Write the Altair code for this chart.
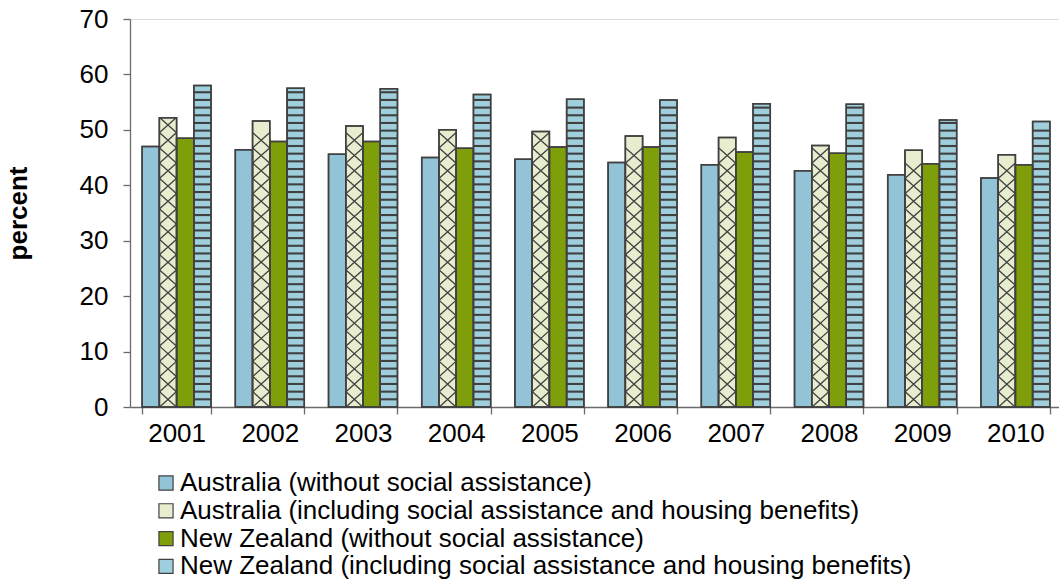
import altair as alt
import pandas as pd

years = ["2001", "2002", "2003", "2004", "2005", "2006", "2007", "2008", "2009", "2010"]
series = [
    "Australia (without social assistance)",
    "Australia (including social assistance and housing benefits)",
    "New Zealand (without social assistance)",
    "New Zealand (including social assistance and housing benefits)",
]
au_without = [47.0, 46.4, 45.6, 45.0, 44.7, 44.1, 43.7, 42.6, 41.9, 41.3]
au_including = [52.2, 51.6, 50.7, 50.0, 49.7, 48.9, 48.6, 47.2, 46.3, 45.5]
nz_without = [48.5, 47.9, 47.9, 46.7, 46.9, 46.9, 46.0, 45.8, 43.9, 43.7]
nz_including = [58.0, 57.5, 57.4, 56.4, 55.5, 55.4, 54.7, 54.6, 51.8, 51.5]

colors = ["#93c3d6", "#e9edcf", "#7f9f0a", "#9fcfdc"]
dark = "#404040"
axis_gray = "#6b6b6b"
FONT = "Liberation Sans"
FS = 26

values = [au_without, au_including, nz_without, nz_including]
rows = []
for s, vals in zip(series, values):
    for y, v in zip(years, vals):
        rows.append({"year": y, "series": s, "value": v})
df = pd.DataFrame(rows)

# horizontal stripe pattern for NZ (including ...)
stripe_step = 1.385
stripe_thick = 0.38
stripes = []
for y, v in zip(years, nz_including):
    k = 1
    while k * stripe_step < v - 0.5:
        c = k * stripe_step
        stripes.append({"year": y, "series": series[3], "y0": c - stripe_thick / 2, "y1": c + stripe_thick / 2})
        k += 1
sdf = pd.DataFrame(stripes)

# cross-hatch pattern for Australia (including ...)
cell = 2.75
crosses = []
for y, v in zip(years, au_including):
    k = 0
    while (k + 1) * cell <= v + 0.3:
        crosses.append({"year": y, "series": series[1], "c": (k + 0.5) * cell})
        k += 1
cdf = pd.DataFrame(crosses)

xscale = alt.Scale(paddingInner=0.26, paddingOuter=0.13, range=[0, 932])
xoff = alt.XOffset("series:N", scale=alt.Scale(domain=series, paddingInner=0, paddingOuter=0), sort=series)
yscale = alt.Scale(domain=[0, 70], nice=False)

bars = alt.Chart(df).mark_bar(stroke=dark, strokeWidth=1.5).encode(
    x=alt.X("year:N", scale=xscale, sort=years, title=None,
            axis=alt.Axis(labelAngle=0, tickBand="extent", tickSize=7, labelPadding=6,
                          labelFontSize=FS, labelFont=FONT, labelColor="#000000",
                          domainColor=axis_gray, tickColor=axis_gray, domainWidth=1.3, tickWidth=1.3)),
    xOffset=xoff,
    y=alt.Y("value:Q", scale=yscale, title="percent",
            axis=alt.Axis(values=[0, 10, 20, 30, 40, 50, 60, 70], tickSize=7, labelPadding=15,
                          labelFontSize=FS, labelFont=FONT, labelColor="#000000",
                          titleFont=FONT, titleFontSize=FS, titleFontWeight="bold", titleColor="#000000",
                          titlePadding=48, grid=False,
                          domainColor=axis_gray, tickColor=axis_gray, domainWidth=1.3, tickWidth=1.3)),
    color=alt.Color("series:N", scale=alt.Scale(domain=series, range=colors), sort=series,
                    legend=alt.Legend(title=None, orient="none", legendX=23, legendY=451,
                                      direction="vertical", symbolType="square", symbolSize=200,
                                      symbolStrokeColor=dark, symbolStrokeWidth=1.2,
                                      labelFont=FONT, labelFontSize=FS, labelColor="#000000",
                                      rowPadding=1.8, labelLimit=900, symbolOffset=0, labelOffset=1)),
)

stripe_layer = alt.Chart(sdf).mark_bar(color=dark).encode(
    x=alt.X("year:N", scale=xscale, sort=years),
    xOffset=xoff,
    y=alt.Y("y0:Q", scale=yscale),
    y2="y1:Q",
)

cross_layer = alt.Chart(cdf).mark_point(
    shape="M-1,-0.9L1,0.9M1,-0.9L-1,0.9", size=280, filled=False, stroke=dark, strokeWidth=1.3, opacity=1
).encode(
    x=alt.X("year:N", scale=xscale, sort=years),
    xOffset=xoff,
    y=alt.Y("c:Q", scale=yscale),
)

outline = alt.Chart(df).mark_bar(stroke=dark, strokeWidth=1.5, fillOpacity=0).encode(
    x=alt.X("year:N", scale=xscale, sort=years),
    xOffset=xoff,
    y=alt.Y("value:Q", scale=yscale),
)

chart = alt.layer(bars, stripe_layer, cross_layer, outline).properties(
    width=929, height=388,
    autosize=alt.AutoSizeParams(type="none"),
    padding={"left": 130, "top": 19, "right": 0, "bottom": 177},
).configure_view(stroke=None).configure(background="white")

chart.save("out.html", embed_options={"renderer": "svg", "actions": False})
